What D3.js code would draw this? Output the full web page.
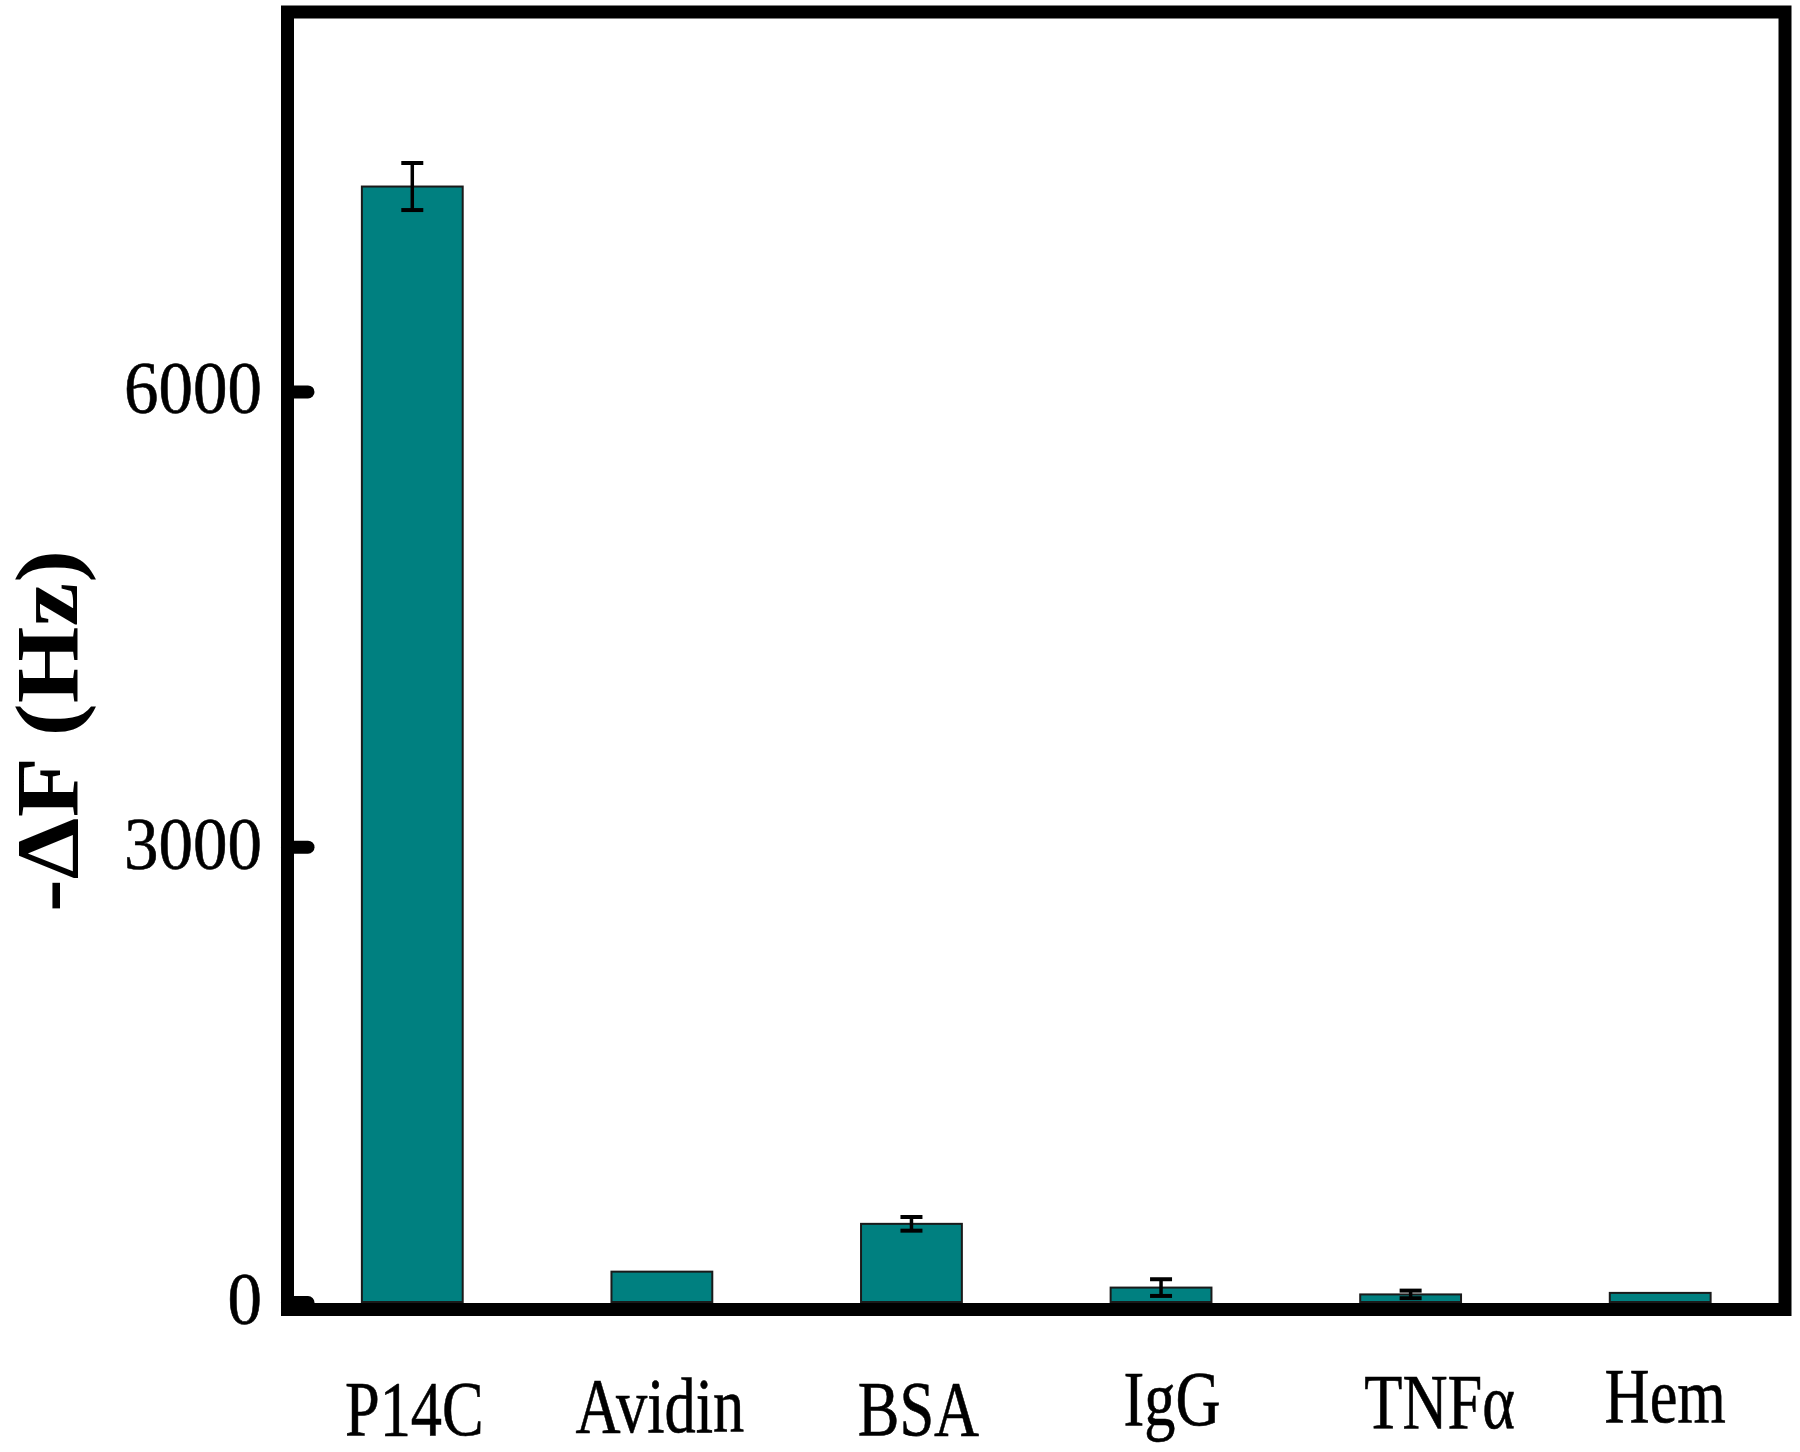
<!DOCTYPE html>
<html>
<head>
<meta charset="utf-8">
<script src="https://cdn.jsdelivr.net/npm/d3@7"></script>
<style>
	body { margin: 0; background: white; }
	svg text { font-family: "Liberation Serif", "Times New Roman", serif; fill: black; }
</style>
</head>
<body>
<svg id="chart" width="1800" height="1452"></svg>
<script>

// Values.
const categories = ["P14C", "Avidin", "BSA", "IgG", "TNFα", "Hem"];
const values = [7350, 200, 515, 95, 50, 60];
const errors = [155, 0, 45, 55, 25, 0];
const yTicks = [0, 3000, 6000];
const yTitle = "-ΔF (Hz)";

// Small label nudges, the category labels in the original are not quite centred.
const labelNudge = {"P14C": [2, 5], "Avidin": [-2, 2], "BSA": [7, 5], "IgG": [11, -5], "TNFα": [29, -2], "Hem": [5, -8]};


let svg = d3.select("#chart");

// Frame edges (centre of the thick lines). `top' is taken by window so prefix them.
let frameLeft = 287.5, frameRight = 1785, frameTop = 12, frameBottom = 1309.5;


let x = d3.scaleBand()
  .domain(categories)
  .range([frameLeft, frameRight])
  .paddingInner(0.596)
  .paddingOuter(0.298);

let y = d3.scaleLinear()
  .domain([0, 8500])
  .range([1302, frameTop]);


let data = categories.map((c, i)=>{
	return {name: c, value: values[i], err: errors[i]}
}); // map


// Bars.
svg.append("g")
  .attr("class", "bars")
  .selectAll("rect")
  .data(data)
  .enter()
  .append("rect")
	.attr("x", d=>x(d.name))
	.attr("width", x.bandwidth())
	.attr("y", d=>y(d.value))
	.attr("height", d=>y(0) - y(d.value))
	.attr("fill", "#008080")
	.attr("stroke", "#1a1a1a")
	.attr("stroke-width", 2);


// Error bars, only where there is an error.
let eg = svg.append("g")
  .attr("class", "errorbars")
  .attr("stroke", "black")
  .attr("stroke-width", 3.5)
  .selectAll("g")
  .data(data.filter(d=>d.err > 0))
  .enter()
  .append("g");

eg.append("line")
	.attr("x1", d=>x(d.name) + x.bandwidth()/2)
	.attr("x2", d=>x(d.name) + x.bandwidth()/2)
	.attr("y1", d=>y(d.value + d.err))
	.attr("y2", d=>y(d.value - d.err));

[1, -1].forEach(s=>{
	eg.append("line")
		.attr("x1", d=>x(d.name) + x.bandwidth()/2 - 11)
		.attr("x2", d=>x(d.name) + x.bandwidth()/2 + 11)
		.attr("y1", d=>y(d.value + s*d.err))
		.attr("y2", d=>y(d.value + s*d.err))
		.attr("stroke-width", 4);
}); // forEach


// Thick frame round the plot.
svg.append("rect")
  .attr("x", frameLeft)
  .attr("y", frameTop)
  .attr("width", frameRight - frameLeft)
  .attr("height", frameBottom - frameTop)
  .attr("fill", "none")
  .attr("stroke", "black")
  .attr("stroke-width", 13);


// Y axis ticks point inwards, labels drawn by hand so they can be squeezed a bit.
let yaxis = d3.axisLeft(y)
  .tickValues(yTicks)
  .tickSize(-20.5)
  .tickFormat("");

let ga = svg.append("g")
  .attr("transform", `translate(${frameLeft},0)`)
  .call(yaxis);
ga.select(".domain").remove();
ga.selectAll(".tick line")
  .attr("stroke", "black")
  .attr("stroke-width", 13)
  .attr("stroke-linecap", "round");

svg.append("g")
  .attr("class", "ylabels")
  .attr("stroke", "black")
  .attr("stroke-width", 0.6)
  .selectAll("text")
  .data(yTicks)
  .enter()
  .append("text")
	.attr("transform", d=>`translate(262,${y(d) + 22}) scale(0.92,1)`)
	.attr("text-anchor", "end")
	.attr("font-size", 75)
	.text(d=>d);


// Category labels under the axis.
svg.append("g")
  .attr("class", "xlabels")
  .attr("stroke", "black")
  .attr("stroke-width", 0.6)
  .selectAll("text")
  .data(categories)
  .enter()
  .append("text")
	.attr("transform", d=>{
		let n = labelNudge[d] || [0, 0];
		return `translate(${x(d) + x.bandwidth()/2 + n[0]},${1430 + n[1]}) scale(0.8,1)`
	})
	.attr("text-anchor", "middle")
	.attr("font-size", 78)
	.text(d=>d);


// Axis title.
svg.append("text")
  .attr("transform", `translate(77,731) rotate(-90)`)
  .attr("text-anchor", "middle")
  .attr("font-size", 88)
  .attr("font-weight", "bold")
  .attr("textLength", 362)
  .attr("lengthAdjust", "spacingAndGlyphs")
  .text(yTitle);

</script>
</body>
</html>
